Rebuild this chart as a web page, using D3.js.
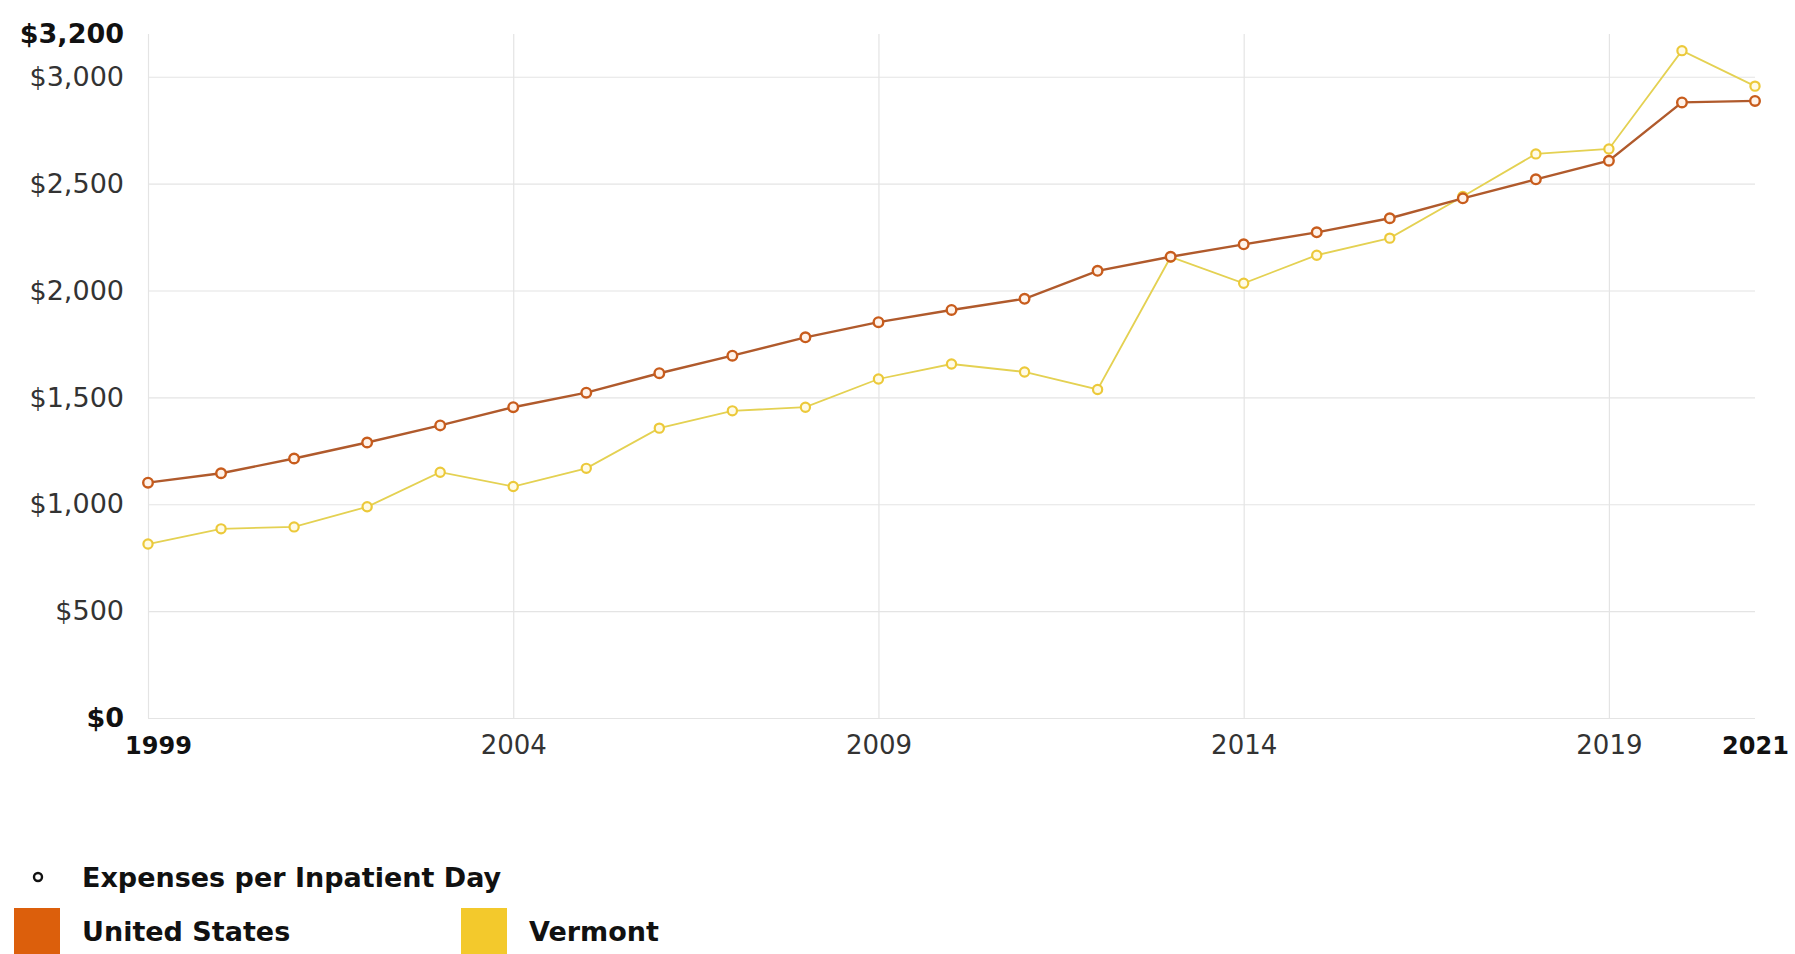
<!DOCTYPE html>
<html>
<head>
<meta charset="utf-8">
<script src="https://cdn.jsdelivr.net/npm/d3@7"></script>
<style>
  html, body { margin: 0; padding: 0; background: #fff; }
  svg { display: block; font-family: "DejaVu Sans", Verdana, sans-serif; }
  .axis path, .axis line { display: none; }
  .grid line { stroke: #e4e4e4; stroke-width: 1.2; }
  .grid path { display: none; }
</style>
</head>
<body>
<svg id="chart" width="1795" height="954"></svg>
<script>
// Expenses per inpatient day, 1999–2021
const years = [1999, 2000, 2001, 2002, 2003, 2004, 2005, 2006, 2007, 2008, 2009, 2010,
               2011, 2012, 2013, 2014, 2015, 2016, 2017, 2018, 2019, 2020, 2021];
const unitedStates = [1101, 1145, 1214, 1289, 1369, 1454, 1522, 1613, 1695, 1781, 1852, 1909,
                      1961, 2092, 2158, 2216, 2272, 2338, 2431, 2520, 2607, 2880, 2887];
const vermont = [814, 885, 894, 988, 1150, 1083, 1168, 1356, 1437, 1454, 1586, 1656,
                 1619, 1537, 2157, 2034, 2165, 2245, 2440, 2639, 2662, 3122, 2956];
const yTicks = [0, 500, 1000, 1500, 2000, 2500, 3000, 3200];
const yBoldTicks = [0, 3200];
const xTicks = [1999, 2004, 2009, 2014, 2019, 2021];
const xBoldTicks = [1999, 2021];
const gridYears = [1999, 2004, 2009, 2014, 2019];
const gridValues = [0, 500, 1000, 1500, 2000, 2500, 3000];

const seriesNames = ["United States", "Vermont"];
const legendTitle = "Expenses per Inpatient Day";

const fontFamily = "'DejaVu Sans', Verdana, sans-serif";
const svg = d3.select("#chart");
const plotLeft = 148, plotRight = 1755, plotTop = 34, plotBottom = 718;

const x = d3.scaleLinear().domain([1999, 2021]).range([plotLeft, plotRight]);
const y = d3.scaleLinear().domain([0, 3200]).range([plotBottom, plotTop]);

// gridlines
svg.append("g").attr("class", "grid")
  .attr("transform", `translate(0,${plotBottom})`)
  .call(d3.axisBottom(x).tickValues(gridYears).tickSize(-(plotBottom - plotTop)).tickFormat(""));
svg.append("g").attr("class", "grid")
  .attr("transform", `translate(${plotLeft},0)`)
  .call(d3.axisLeft(y).tickValues(gridValues).tickSize(-(plotRight - plotLeft)).tickFormat(""));

const money = d3.format("$,");

// y axis labels
const yAxis = svg.append("g").attr("class", "axis")
  .attr("transform", `translate(${plotLeft - 24},0)`)
  .call(d3.axisLeft(y).tickValues(yTicks).tickSize(0).tickPadding(0).tickFormat(d => money(d)))
  .attr("font-family", fontFamily);
yAxis.selectAll("text")
  .attr("font-size", 27)
  .attr("fill", d => yBoldTicks.includes(d) ? "#111" : "#333")
  .attr("font-weight", d => yBoldTicks.includes(d) ? "bold" : "normal")
  .attr("dy", "0.32em");

// x axis labels
const xAxis = svg.append("g").attr("class", "axis")
  .attr("transform", `translate(0,${plotBottom + 31})`)
  .call(d3.axisBottom(x).tickValues(xTicks).tickSize(0).tickPadding(0).tickFormat(d3.format("d")))
  .attr("font-family", fontFamily);
xAxis.selectAll("text")
  .attr("font-size", d => xBoldTicks.includes(d) ? 24 : 26)
  .attr("fill", d => xBoldTicks.includes(d) ? "#111" : "#333")
  .attr("font-weight", d => xBoldTicks.includes(d) ? "bold" : "normal")
  .attr("dx", d => d === 1999 ? 10 : 0)
  .attr("dy", "0.2em");

const line = d3.line().x((d, i) => x(years[i])).y(d => y(d));

// Vermont series
svg.append("path").datum(vermont)
  .attr("d", line).attr("fill", "none")
  .attr("stroke", "#e4d152").attr("stroke-width", 1.8);
svg.append("g").selectAll("circle").data(vermont).join("circle")
  .attr("cx", (d, i) => x(years[i])).attr("cy", d => y(d)).attr("r", 4.6)
  .attr("fill", "#fffbe6").attr("stroke", "#ecc93a").attr("stroke-width", 2.2);

// United States series
svg.append("path").datum(unitedStates)
  .attr("d", line).attr("fill", "none")
  .attr("stroke", "#b05a2c").attr("stroke-width", 2.4);
svg.append("g").selectAll("circle").data(unitedStates).join("circle")
  .attr("cx", (d, i) => x(years[i])).attr("cy", d => y(d)).attr("r", 4.8)
  .attr("fill", "#fff3ea").attr("stroke", "#c85c1c").attr("stroke-width", 2.4);

// legend
const legend = svg.append("g").attr("font-family", fontFamily);
legend.append("circle").attr("cx", 38).attr("cy", 877).attr("r", 4)
  .attr("fill", "#fff").attr("stroke", "#111").attr("stroke-width", 2.4);
legend.append("text").attr("x", 82).attr("y", 877).attr("dy", "0.36em")
  .attr("font-size", 27).attr("font-weight", "bold").attr("fill", "#111")
  .text(legendTitle);

const swatchColors = ["#dc5f0c", "#f3c92c"];
const swatchX = [14, 461];
seriesNames.forEach((name, i) => {
  legend.append("rect").attr("x", swatchX[i]).attr("y", 908)
    .attr("width", 46).attr("height", 46).attr("fill", swatchColors[i]);
  legend.append("text").attr("x", swatchX[i] + 68).attr("y", 931).attr("dy", "0.36em")
    .attr("font-size", 27).attr("font-weight", "bold").attr("fill", "#111")
    .text(name);
});
</script>
</body>
</html>
